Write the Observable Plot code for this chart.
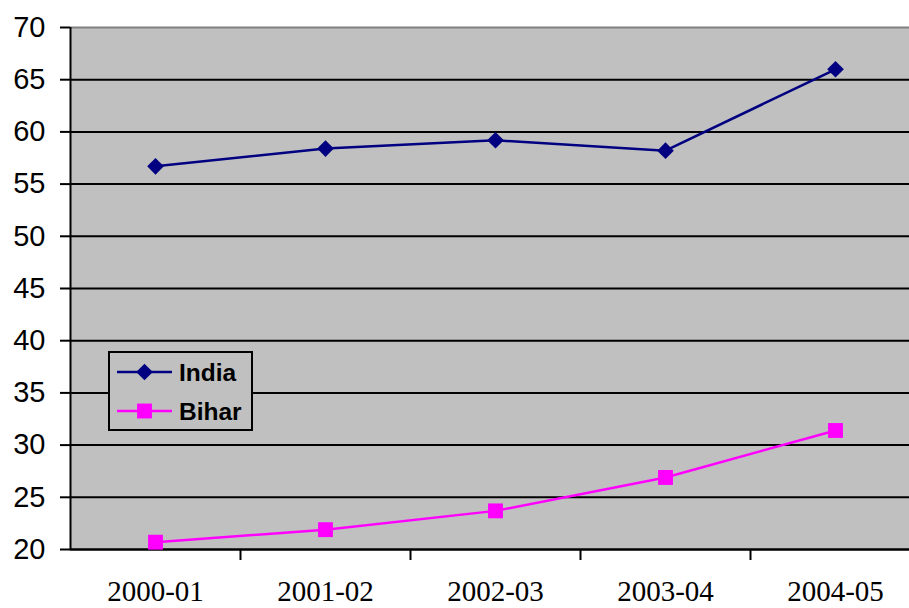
<!DOCTYPE html>
<html><head><meta charset="utf-8">
<script src="https://cdn.jsdelivr.net/npm/d3@7"></script>
<script src="https://cdn.jsdelivr.net/npm/@observablehq/plot@0.6"></script>
<style>
body{margin:0;overflow:hidden;background:#fff;}
#wrap{position:relative;width:909px;height:608px;overflow:hidden;}
#legend{position:absolute;left:108px;top:351px;width:141px;height:76px;border:2px solid #000;background:#c0c0c0;}
</style></head>
<body><div id="wrap"><div id="legend"></div></div>
<script>
const periods = ["2000-01","2001-02","2002-03","2003-04","2004-05"];
const india = [56.7, 58.4, 59.2, 58.2, 66.0];
const bihar = [20.7, 21.9, 23.7, 26.9, 31.4];
const yTicks = [20,25,30,35,40,45,50,55,60,65,70];

const rows = [];
periods.forEach((p,i)=>{rows.push({i, s:"India", v:india[i]}); rows.push({i, s:"Bihar", v:bihar[i]});});
const indiaRows = rows.filter(d=>d.s==="India");
const biharRows = rows.filter(d=>d.s==="Bihar");

const chart = Plot.plot({
  width: 920, height: 608,
  marginTop: 27, marginBottom: 59, marginLeft: 70, marginRight: 0,
  x: {type:"linear", domain:[-0.5, 4.5]},
  y: {domain:[20,70]},
  style: {background:"transparent", maxWidth:"none"},
  marks: [
    Plot.frame({fill:"#c0c0c0", stroke:null}),
    Plot.ruleY(yTicks.filter(t=>t<70), {stroke:"#000", strokeWidth:2}),
    Plot.ruleY([70], {stroke:"#808080", strokeWidth:2}),
    Plot.axisY({ticks: yTicks, tickSize: 10, tickPadding: 15, strokeWidth: 2, stroke:"#000", fontSize: 29, fontFamily:"Liberation Sans, Arial, sans-serif", fill:"#000", label:null}),
    Plot.axisX({ticks:[0.5,1.5,2.5,3.5], tickSize: 11, tickFormat: ()=>"", strokeWidth: 2, stroke:"#000", label:null}),
    Plot.axisX({ticks:[0,1,2,3,4], tickSize: 0, tickPadding: 31, tickFormat: i=>periods[i], fontSize: 29, fontFamily:"Liberation Serif, Times New Roman, serif", fill:"#000", label:null}),
    Plot.ruleX([-0.5], {stroke:"#000", strokeWidth:2}),
    Plot.ruleY([20], {stroke:"#000", strokeWidth:2}),
    Plot.line(indiaRows, {x:"i", y:"v", stroke:"#000080", strokeWidth:2.5}),
    Plot.dot(indiaRows, {x:"i", y:"v", symbol:"diamond2", r:7.5, fill:"#000080", stroke:null}),
    Plot.line(biharRows, {x:"i", y:"v", stroke:"#ff00ff", strokeWidth:2.5}),
    Plot.dot(biharRows, {x:"i", y:"v", symbol:"square", r:8.4, fill:"#ff00ff", stroke:null})
  ]
});
chart.style.position="absolute"; chart.style.left="0"; chart.style.top="0"; chart.style.maxWidth="none";
document.getElementById("wrap").prepend(chart);

// legend
const series = [{name:"India", color:"#000080", sym:"diamond", r:7.5},{name:"Bihar", color:"#ff00ff", sym:"square", r:8.4}];
const lg = d3.select("#legend").append("svg").attr("width",141).attr("height",76);
series.forEach((s,k)=>{
  const y = 19 + k*39;
  lg.append("line").attr("x1",7).attr("x2",62).attr("y1",y).attr("y2",y).attr("stroke",s.color).attr("stroke-width",2.5);
  const sym = s.sym==="diamond" ? d3.symbolDiamond2 : d3.symbolSquare;
  lg.append("path").attr("d", d3.symbol(sym, Math.PI*s.r*s.r)()).attr("transform",`translate(34.5,${y})`).attr("fill",s.color);
  lg.append("text").attr("x",69).attr("y",y).attr("dy","0.36em").attr("font-weight","bold").attr("font-size",24.5).attr("font-family","Liberation Sans, Arial, sans-serif").text(s.name);
});
</script></body></html>
